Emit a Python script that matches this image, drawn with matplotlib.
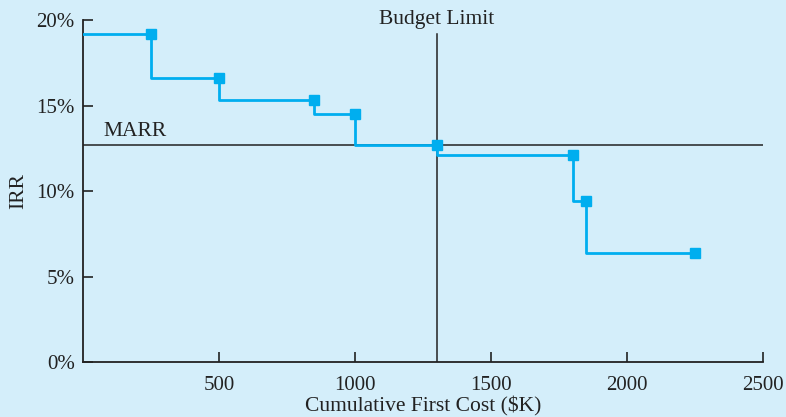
import matplotlib
matplotlib.use("Agg")
import matplotlib.pyplot as plt
from matplotlib.ticker import FuncFormatter

cum_cost = [250, 500, 850, 1000, 1300, 1800, 1850, 2250]
irr = [19.2, 16.6, 15.3, 14.5, 12.7, 12.1, 9.4, 6.4]
marr = 12.7
budget = 1300
xticks = [500, 1000, 1500, 2000, 2500]
yticks = [0, 5, 10, 15, 20]

bg = "#d4eefa"
blue = "#00aeef"
plt.rcParams['font.family'] = ['Liberation Serif', 'DejaVu Serif']

fig = plt.figure(figsize=(7.86, 4.17), dpi=100, facecolor=bg)
ax = fig.add_axes([0.1056, 0.1319, 0.8651, 0.8201], facecolor=bg)

xs = [0] + cum_cost
ys = [irr[0]] + irr
ax.step(xs, ys, where='pre', color=blue, lw=2.0, zorder=3)
ax.plot(cum_cost, irr, 's', color=blue, ms=7.5, zorder=4, clip_on=False)

ax.axhline(marr, color='#222222', lw=1.1, zorder=2)
ax.plot([budget, budget], [0, irr[0]], color='#222222', lw=1.1, zorder=2)
ax.text(budget, 19.5, "Budget Limit", ha='center', va='bottom', fontsize=15.5, color='#222222')
ax.text(75, marr + 0.25, "MARR", ha='left', va='bottom', fontsize=15.5, color='#222222')

ax.set_xlim(0, 2500)
ax.set_ylim(0, 20)
ax.set_xticks(xticks)
ax.set_yticks(yticks)
ax.yaxis.set_major_formatter(FuncFormatter(lambda v, p: f"{int(v)}%"))
ax.tick_params(direction='in', length=7, width=1.2, labelsize=15, colors='#222222')
ax.tick_params(axis='x', pad=10)
ax.tick_params(axis='y', pad=6)
for s in ['top', 'right']:
    ax.spines[s].set_visible(False)
for s in ['left', 'bottom']:
    ax.spines[s].set_linewidth(1.3)
    ax.spines[s].set_color('#222222')

ax.set_xlabel("Cumulative First Cost ($K)", fontsize=15.5, color='#222222', labelpad=1)
ax.set_ylabel("IRR", fontsize=15.5, color='#222222', labelpad=6)

fig.savefig("out.png", dpi=100, facecolor=bg)
